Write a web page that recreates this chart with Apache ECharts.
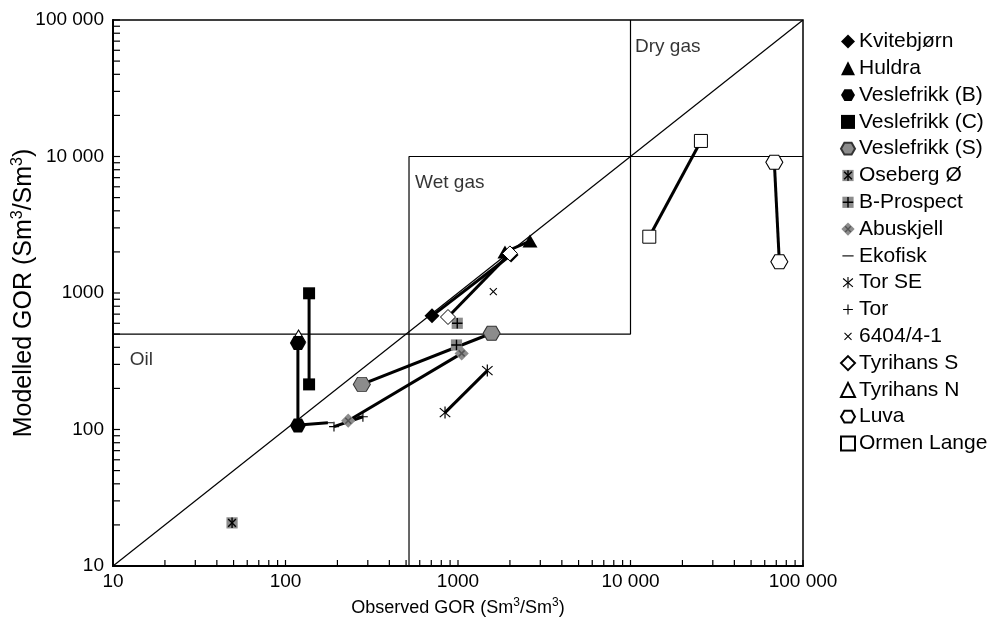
<!DOCTYPE html>
<html>
<head>
<meta charset="utf-8">
<script src="https://cdn.jsdelivr.net/npm/echarts@6/dist/echarts.min.js"></script>
<style>html,body{margin:0;padding:0;background:#fff}#c{width:1000px;height:626px}</style>
</head>
<body>
<div id="c"></div>
<script>
// ---- data (observed GOR, modelled GOR) ----
const kvitebjorn  = [[707, 680], [2030, 1900]];
const huldra      = [[2614, 2404], [1872, 1997]];
const veslefrikkB = [[118, 430], [118, 107]];
const veslefrikkC = [[137, 995], [137, 214]];
const veslefrikkS = [[277, 214], [1567, 507]];
const osebergO    = [[49, 20.7]];
const bProspect   = [[990, 600], [980, 416]];
const abuskjell   = [[231, 116], [1050, 361]];
const ekofisk     = [[120, 108], [176, 112]];
const torSE       = [[841, 133], [1479, 270]];
const tor         = [[191, 105], [281, 124]];
const well6404    = [[1602, 1023]];
const tyrihansS   = [[875, 667], [2000, 1950]];
const tyrihansN   = [[119, 484]];
const luva        = [[68200, 9070], [72900, 1695]];
const ormenLange  = [[25600, 13000], [12850, 2585]];

const oilBoundary = [[10, 500], [10000, 500], [10000, 100000]];
const gasBoundary = [[520, 10], [520, 10000], [100000, 10000]];
const diagonal    = [[10, 10], [100000, 100000]];
const regionNames = ['Dry gas', 'Wet gas', 'Oil'];
const regionAnchors = [[10620, 63400], [564, 6400], [12.5, 323]];

const tickValues = [10, 100, 1000, 10000, 100000];
const tickLabels = ['10', '100', '1000', '10 000', '100 000'];
const decades = [10, 100, 1000, 10000];
const subTicks = [1, 2, 3, 4, 5, 6, 7, 8, 9];

// ---- symbols ----
function svg(inner) {
  return 'image://data:image/svg+xml;charset=utf-8,' + encodeURIComponent(
    '<svg xmlns="http://www.w3.org/2000/svg" width="40" height="40" viewBox="0 0 20 20">' + inner + '</svg>');
}
const HEX = 'path://M0,5 L2.9,0 L9.1,0 L12,5 L9.1,10 L2.9,10 Z';
const symOseberg = svg('<rect x="2" y="2" width="16" height="16" fill="#8c8c8c"/><g stroke="#000" stroke-width="2"><line x1="10" y1="2.5" x2="10" y2="17.5"/><line x1="4.5" y1="4.5" x2="15.5" y2="15.5"/><line x1="15.5" y1="4.5" x2="4.5" y2="15.5"/></g>');
const symBP = svg('<rect x="2" y="2" width="16" height="16" fill="#8c8c8c"/><g stroke="#000" stroke-width="2"><line x1="10" y1="2.5" x2="10" y2="17.5"/><line x1="2.5" y1="10" x2="17.5" y2="10"/></g>');
const symAbu = svg('<polygon points="10,0.5 19.5,10 10,19.5 0.5,10" fill="#8c8c8c"/><g stroke="#555" stroke-width="2"><line x1="6" y1="6" x2="14" y2="14"/><line x1="14" y1="6" x2="6" y2="14"/></g>');
const symEko = svg('<line x1="2" y1="10" x2="18" y2="10" stroke="#000" stroke-width="1.6"/>');
const symTorSE = svg('<g stroke="#000" stroke-width="1.6"><line x1="10" y1="2" x2="10" y2="18"/><line x1="3" y1="4" x2="17" y2="16"/><line x1="17" y1="4" x2="3" y2="16"/></g>');
const symTor = svg('<g stroke="#000" stroke-width="1.6"><line x1="10" y1="3" x2="10" y2="17"/><line x1="3" y1="10" x2="17" y2="10"/></g>');
const sym6404 = svg('<g stroke="#000" stroke-width="1.6"><line x1="5" y1="5" x2="15" y2="15"/><line x1="15" y1="5" x2="5" y2="15"/></g>');

const F = 'Liberation Sans, Arial, sans-serif';

const fields = [
  {name: 'Kvitebjørn', data: kvitebjorn, symbol: 'diamond', size: 15, style: {color: '#000'}},
  {name: 'Huldra', data: huldra, symbol: 'triangle', size: [15, 13], style: {color: '#000'}},
  {name: 'Veslefrikk (B)', data: veslefrikkB, symbol: HEX, size: [16, 14], style: {color: '#000'}, z: 4},
  {name: 'Veslefrikk (C)', data: veslefrikkC, symbol: 'rect', size: 12, style: {color: '#000'}},
  {name: 'Veslefrikk (S)', data: veslefrikkS, symbol: HEX, size: [17, 14], style: {color: '#8c8c8c', borderColor: '#333', borderWidth: 1}},
  {name: 'Oseberg Ø', data: osebergO, symbol: symOseberg, size: 14, style: {color: '#000'}},
  {name: 'B-Prospect', data: bProspect, symbol: symBP, size: 14, style: {color: '#000'}, noLine: true},
  {name: 'Abuskjell', data: abuskjell, symbol: symAbu, size: 15, style: {color: '#000'}},
  {name: 'Ekofisk', data: ekofisk, symbol: symEko, size: 14, style: {color: '#000'}},
  {name: 'Tor SE', data: torSE, symbol: symTorSE, size: 15, style: {color: '#000'}},
  {name: 'Tor', data: tor, symbol: symTor, size: 14, style: {color: '#000'}},
  {name: '6404/4-1', data: well6404, symbol: sym6404, size: 14, style: {color: '#000'}},
  {name: 'Tyrihans S', data: tyrihansS, symbol: 'diamond', size: 15, style: {color: '#fff', borderColor: '#000', borderWidth: 1}},
  {name: 'Tyrihans N', data: tyrihansN, symbol: 'triangle', size: [14, 12], style: {color: '#fff', borderColor: '#000', borderWidth: 1}, z: 2},
  {name: 'Luva', data: luva, symbol: HEX, size: [17, 14], style: {color: '#fff', borderColor: '#000', borderWidth: 1}},
  {name: 'Ormen Lange', data: ormenLange, symbol: 'rect', size: 13, style: {color: '#fff', borderColor: '#000', borderWidth: 1}}
];

const refLine = (data) => ({
  type: 'line', data: data, symbol: 'none', silent: true, z: 1,
  lineStyle: {color: '#000', width: 1.2}, animation: false
});

const xTickData = [], yTickData = [];
decades.forEach(d => subTicks.forEach(s => { xTickData.push([d * s, 10]); yTickData.push([10, d * s]); }));
xTickData.push([100000, 10]); yTickData.push([10, 100000]);

const series = [
  refLine(diagonal), refLine(oilBoundary), refLine(gasBoundary),
  {
    type: 'custom', coordinateSystem: 'cartesian2d', silent: true, z: 5, clip: false,
    data: xTickData,
    renderItem: (params, api) => {
      const p = api.coord([api.value(0), api.value(1)]);
      return {type: 'line', shape: {x1: p[0], y1: p[1], x2: p[0], y2: p[1] - 6}, style: {stroke: '#000', lineWidth: 1.2}};
    }
  },
  {
    type: 'custom', coordinateSystem: 'cartesian2d', silent: true, z: 5, clip: false,
    data: yTickData,
    renderItem: (params, api) => {
      const p = api.coord([api.value(0), api.value(1)]);
      return {type: 'line', shape: {x1: p[0], y1: p[1], x2: p[0] + 7, y2: p[1]}, style: {stroke: '#000', lineWidth: 1.2}};
    }
  },
  {
    type: 'scatter', silent: true, symbolSize: 0,
    data: regionNames.map((n, i) => ({name: n, value: regionAnchors[i]})),
    label: {show: true, position: 'right', distance: 0, formatter: '{b}', color: '#000', fontFamily: F, fontSize: 19}
  }
];
fields.forEach(f => {
  series.push({
    name: f.name, type: 'line', data: f.data, z: f.z || 3,
    symbol: f.symbol, symbolSize: f.size, showSymbol: true,
    itemStyle: f.style,
    lineStyle: {color: '#000', width: f.noLine ? 0 : 3},
    animation: false
  });
});

const fmt = v => {
  const i = tickValues.indexOf(Math.round(v));
  return i >= 0 ? tickLabels[i] : '';
};

const chart = echarts.init(document.getElementById('c'));
chart.setOption({
  animation: false,
  backgroundColor: '#fff',
  grid: {left: 113, right: 197, top: 20, bottom: 60, show: true, borderColor: '#000', borderWidth: 1.5,
    containLabel: false, outerBoundsMode: 'none'},
  legend: {
    orient: 'vertical', left: 835, top: 26,
    itemWidth: 14, itemHeight: 14, itemGap: 5.8,
    textStyle: {fontFamily: F, fontSize: 21, lineHeight: 21, color: '#000', padding: [0, 0, 0, -1]},
    data: fields.map(f => ({name: f.name, icon: f.symbol})),
    selectedMode: false
  },
  xAxis: {
    type: 'log', logBase: 10, min: 10, max: 100000,
    axisLine: {lineStyle: {color: '#000', width: 2}},
    axisTick: {show: false}, splitLine: {show: false},
    axisLabel: {formatter: fmt, color: '#000', fontFamily: F, fontSize: 19, margin: 6, showMinLabel: true, showMaxLabel: true},
    name: 'Observed GOR (Sm{sup|3}/Sm{sup|3})', nameLocation: 'middle', nameGap: 31, nameMoveOverlap: false,
    nameTextStyle: {color: '#000', fontFamily: F, fontSize: 18, lineHeight: 22,
      rich: {sup: {fontSize: 12, lineHeight: 12, verticalAlign: 'top', fontFamily: F, color: '#000'}}}
  },
  yAxis: {
    type: 'log', logBase: 10, min: 10, max: 100000,
    axisLine: {lineStyle: {color: '#000', width: 2}},
    axisTick: {show: false}, splitLine: {show: false},
    axisLabel: {formatter: fmt, color: '#000', fontFamily: F, fontSize: 19, margin: 9, showMinLabel: true, showMaxLabel: true},
    name: 'Modelled GOR (Sm{sup|3}/Sm{sup|3})', nameLocation: 'middle', nameGap: 75, nameMoveOverlap: false,
    nameTextStyle: {color: '#000', fontFamily: F, fontSize: 25, lineHeight: 28,
      rich: {sup: {fontSize: 16, lineHeight: 16, verticalAlign: 'top', fontFamily: F, color: '#000'}}}
  },
  series: series
});
</script>
</body>
</html>
